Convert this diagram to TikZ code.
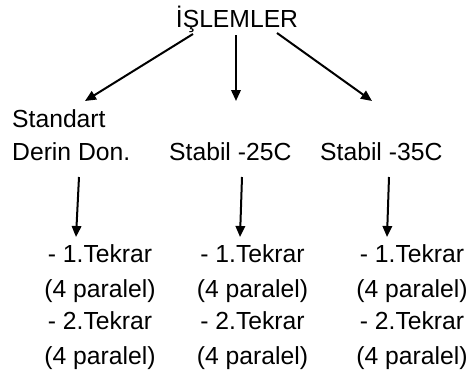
\documentclass[tikz,border=0pt]{standalone}
\usepackage{fontspec}
\setmainfont{Liberation Sans}
\usetikzlibrary{arrows.meta}
\begin{document}
\begin{tikzpicture}[x=1pt,y=-1pt,
  lbl/.style={inner sep=0pt,font=\fontsize{24.7}{34}\selectfont},
  arr/.style={line width=2pt,-{Triangle[length=11pt,width=9.5pt]}}]
\useasboundingbox (0,0) rectangle (475,378);
% headings
\node[lbl,anchor=base] (top) at (237,27) {İŞLEMLER};
\node[lbl,anchor=base west] (std1) at (12,127) {Standart};
\node[lbl,anchor=base west] (std2) at (12,160) {Derin Don.};
\node[lbl,anchor=base west] (s25) at (169,160) {Stabil -25C};
\node[lbl,anchor=base west] (s35) at (320,160) {Stabil -35C};
% lower blocks
\foreach \n/\x in {a/100,b/252.5,c/412}{
  \node[lbl,anchor=base] (\n1) at (\x,262) {- 1.Tekrar};
  \node[lbl,anchor=base] (\n2) at (\x,297) {(4 paralel)};
  \node[lbl,anchor=base] (\n3) at (\x,329) {- 2.Tekrar};
  \node[lbl,anchor=base] (\n4) at (\x,364) {(4 paralel)};
}
% connector end points
\coordinate (t1) at (193,34);  \coordinate (e1) at (85,101);
\coordinate (t2) at (236,35);  \coordinate (e2) at (236,101);
\coordinate (t3) at (277,33);  \coordinate (e3) at (372,101);
\coordinate (u1) at (79,177);  \coordinate (d1) at (76,237);
\coordinate (u2) at (242,177); \coordinate (d2) at (240,237);
\coordinate (u3) at (389,177); \coordinate (d3) at (387,237);
\draw[arr] (t1) -- (e1);
\draw[arr] (t2) -- (e2);
\draw[arr] (t3) -- (e3);
\draw[arr] (u1) -- (d1);
\draw[arr] (u2) -- (d2);
\draw[arr] (u3) -- (d3);
\end{tikzpicture}
\end{document}
